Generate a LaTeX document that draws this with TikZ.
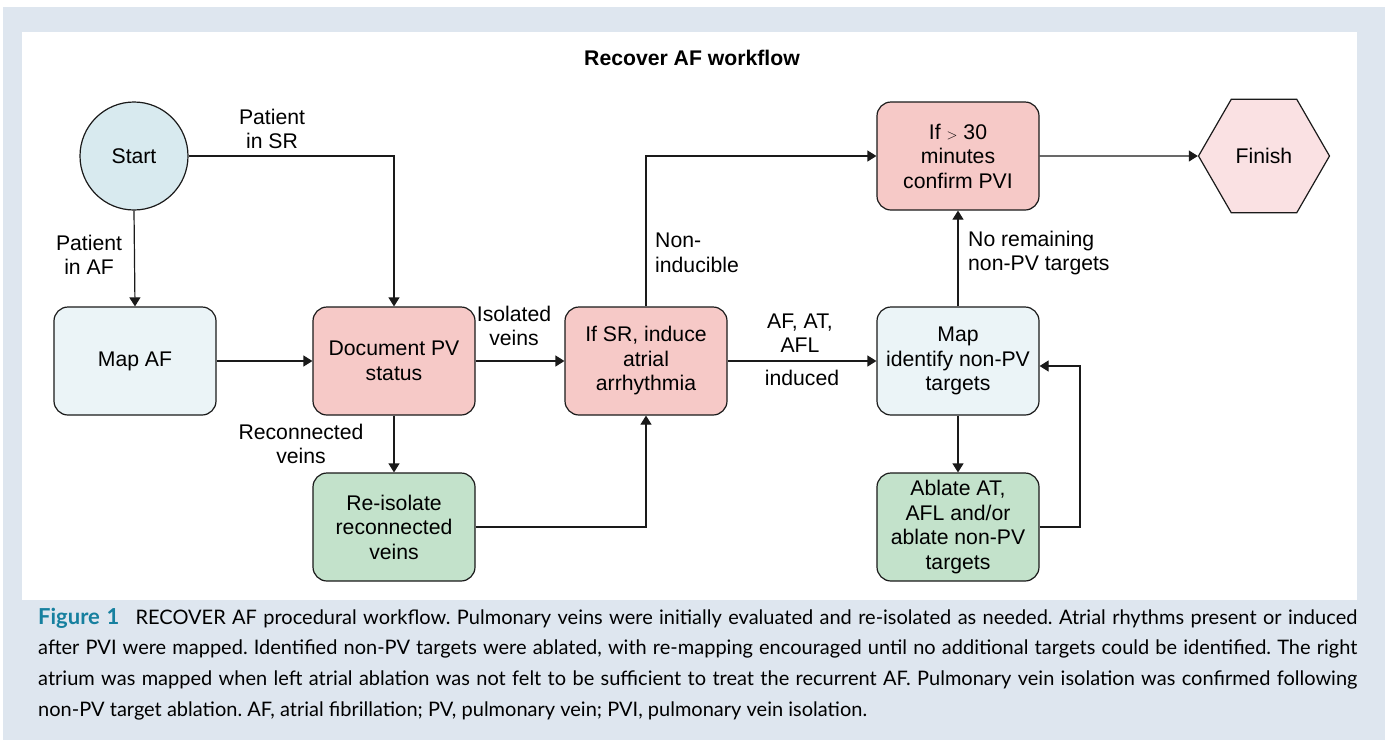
\documentclass[tikz,border=0pt]{standalone}
\usepackage{fontspec}
\setmainfont{Liberation Sans}
\newfontfamily\capfont{Lato}
\usetikzlibrary{arrows.meta,shapes.geometric}
\definecolor{outerbg}{HTML}{DEE6EF}
\definecolor{startfill}{HTML}{D8EAEF}
\definecolor{lightblue}{HTML}{EBF4F7}
\definecolor{pinkfill}{HTML}{F6C9C7}
\definecolor{greenfill}{HTML}{C3E2CB}
\definecolor{finishfill}{HTML}{FAE1E3}
\definecolor{edgecol}{HTML}{1A1A1A}
\definecolor{figteal}{HTML}{16809F}
\newcommand\dfont{\fontsize{21.2}{24.5}\selectfont}
\tikzset{
  box/.style={draw=edgecol, line width=1.2pt, rounded corners=14pt, minimum width=162pt, minimum height=108pt, inner sep=0pt, align=center, font=\dfont},
  lbl/.style={inner sep=0pt, align=center, font=\dfont},
  conn/.style={draw=edgecol, line width=1.2pt, -{Triangle[length=9pt,width=11pt]}},
  capline/.style={anchor=west, inner sep=0pt, font=\capfont\fontsize{20}{22}\selectfont\frenchspacing}
}
\begin{document}
\begin{tikzpicture}[x=1pt,y=-1pt]
\useasboundingbox (0,0) rectangle (1387,740);
\fill[white] (0,0) rectangle (1387,740);
\fill[outerbg] (3,7) rectangle (1385,740);
\fill[white] (22,32) rectangle (1357,600);

\node[lbl, font=\bfseries\dfont] (title) at (692,58) {Recover AF workflow};

\node[circle, draw=edgecol, line width=1.2pt, fill=startfill, minimum size=108pt, inner sep=0pt, font=\dfont] (start) at (134,156) {Start};
\node[box, fill=lightblue] (mapaf) at (135,361) {Map AF};
\node[box, fill=pinkfill] (doc) at (394,361) {Document PV\\status};
\node[box, fill=greenfill] (reiso) at (394,527) {Re-isolate\\reconnected\\veins};
\node[box, fill=pinkfill] (ifsr) at (646,361) {If SR, induce\\atrial\\arrhythmia};
\node[box, fill=pinkfill] (confirm) at (958,156) {If {\fontsize{15}{18}\selectfont$>$} 30\\minutes\\confirm PVI};
\node[box, fill=lightblue] (mapnpv) at (958,361) {Map\\identify non-PV\\targets};
\node[box, fill=greenfill] (ablate) at (958,527) {Ablate AT,\\AFL and/or\\ablate non-PV\\targets};
\node[regular polygon, regular polygon sides=6, draw=edgecol, line width=1.2pt, fill=finishfill, minimum size=131pt, inner sep=0pt, font=\dfont] (finish) at (1264,156) {Finish};

\coordinate (c1) at (394,156);
\coordinate (c2) at (646,527);
\coordinate (c3) at (646,156);
\coordinate (c4) at (1080,527);
\coordinate (c5) at (1080,366);

\draw[conn] (start.east) -- (c1) -- (doc.north);
\draw[conn] (start.south) -- (mapaf.north);
\draw[conn] (mapaf.east) -- (doc.west);
\draw[conn] (doc.east) -- (ifsr.west);
\draw[conn] (doc.south) -- (reiso.north);
\draw[conn] (reiso.east) -- (c2) -- (ifsr.south);
\draw[conn] (ifsr.north) -- (c3) -- (confirm.west);
\draw[conn] (ifsr.east) -- (mapnpv.west);
\draw[conn] (mapnpv.north) -- (confirm.south);
\draw[conn] (mapnpv.south) -- (ablate.north);
\draw[conn] (ablate.east) -- (c4) -- (c5) -- (mapnpv.east |- c5);
\draw[conn] (confirm.east) -- (finish.west);

\node[lbl] (l1) at (272,129) {Patient\\in SR};
\node[lbl] (l2) at (89,255) {Patient\\in AF};
\node[lbl] (l3) at (514,326) {Isolated\\veins};
\node[lbl] (l4) at (301,444) {Reconnected\\veins};
\node[lbl, anchor=west, align=left] (l5) at (655,253) {Non-\\inducible};
\node[lbl] (l6) at (800,333) {AF, AT,\\AFL};
\node[lbl] (l7) at (802,378) {induced};
\node[lbl, anchor=west, align=left] (l8) at (968,253) {No remaining\\non-PV targets};

\node[capline] (cap1) at (38,618) {\makebox[1319pt][s]{{\color{figteal}\bfseries\fontsize{22}{22}\selectfont Figure 1}\hspace{0.5em} RECOVER AF procedural workflow. Pulmonary veins were initially evaluated and re-isolated as needed. Atrial rhythms present or induced}};
\node[capline] (cap2) at (38,649) {\makebox[1319pt][s]{after PVI were mapped. Identified non-PV targets were ablated, with re-mapping encouraged until no additional targets could be identified. The right}};
\node[capline] (cap3) at (38,680) {\makebox[1319pt][s]{atrium was mapped when left atrial ablation was not felt to be sufficient to treat the recurrent AF. Pulmonary vein isolation was confirmed following}};
\node[capline] (cap4) at (38,711) {non-PV target ablation. AF, atrial fibrillation; PV, pulmonary vein; PVI, pulmonary vein isolation.};
\end{tikzpicture}
\end{document}
